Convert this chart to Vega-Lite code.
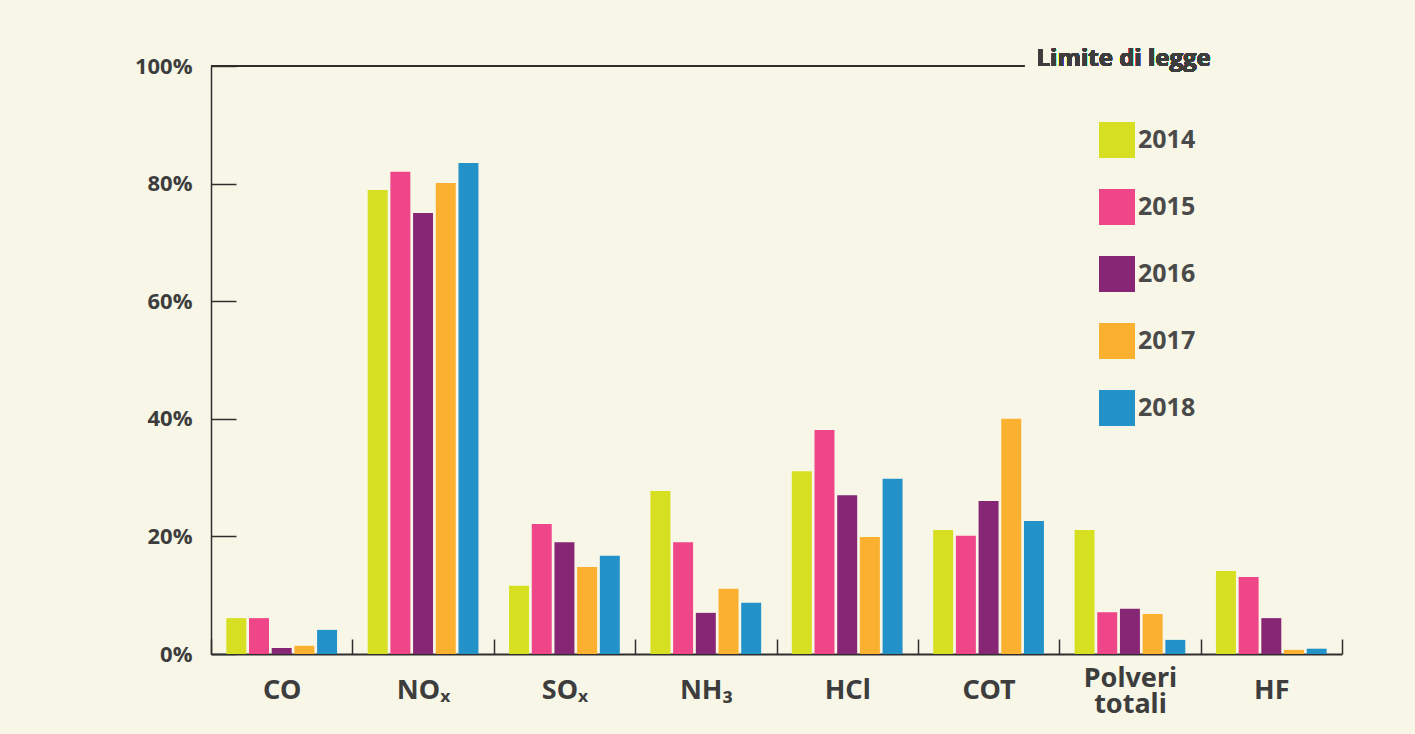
{
  "$schema": "https://vega.github.io/schema/vega-lite/v6.json",
  "width": 1131,
  "height": 588,
  "autosize": "none",
  "padding": {"left": 211, "top": 66, "right": 73, "bottom": 80},
  "background": "#f8f7e7",
  "config": {"view": {"stroke": null}, "font": "Open Sans"},
  "data": {
    "values": [
      {"category": "CO", "year": "2014", "value": 6.1},
      {"category": "CO", "year": "2015", "value": 6.1},
      {"category": "CO", "year": "2016", "value": 1.0},
      {"category": "CO", "year": "2017", "value": 1.4},
      {"category": "CO", "year": "2018", "value": 4.1},
      {"category": "NOₓ", "year": "2014", "value": 78.9},
      {"category": "NOₓ", "year": "2015", "value": 82.0},
      {"category": "NOₓ", "year": "2016", "value": 75.0},
      {"category": "NOₓ", "year": "2017", "value": 80.1},
      {"category": "NOₓ", "year": "2018", "value": 83.5},
      {"category": "SOₓ", "year": "2014", "value": 11.6},
      {"category": "SOₓ", "year": "2015", "value": 22.1},
      {"category": "SOₓ", "year": "2016", "value": 19.0},
      {"category": "SOₓ", "year": "2017", "value": 14.8},
      {"category": "SOₓ", "year": "2018", "value": 16.7},
      {"category": "NH₃", "year": "2014", "value": 27.7},
      {"category": "NH₃", "year": "2015", "value": 19.0},
      {"category": "NH₃", "year": "2016", "value": 7.0},
      {"category": "NH₃", "year": "2017", "value": 11.1},
      {"category": "NH₃", "year": "2018", "value": 8.7},
      {"category": "HCl", "year": "2014", "value": 31.1},
      {"category": "HCl", "year": "2015", "value": 38.1},
      {"category": "HCl", "year": "2016", "value": 27.0},
      {"category": "HCl", "year": "2017", "value": 19.9},
      {"category": "HCl", "year": "2018", "value": 29.8},
      {"category": "COT", "year": "2014", "value": 21.1},
      {"category": "COT", "year": "2015", "value": 20.1},
      {"category": "COT", "year": "2016", "value": 26.0},
      {"category": "COT", "year": "2017", "value": 40.0},
      {"category": "COT", "year": "2018", "value": 22.6},
      {"category": "Polveri totali", "year": "2014", "value": 21.1},
      {"category": "Polveri totali", "year": "2015", "value": 7.1},
      {"category": "Polveri totali", "year": "2016", "value": 7.7},
      {"category": "Polveri totali", "year": "2017", "value": 6.8},
      {"category": "Polveri totali", "year": "2018", "value": 2.4},
      {"category": "HF", "year": "2014", "value": 14.1},
      {"category": "HF", "year": "2015", "value": 13.1},
      {"category": "HF", "year": "2016", "value": 6.1},
      {"category": "HF", "year": "2017", "value": 0.7},
      {"category": "HF", "year": "2018", "value": 0.9}
    ]
  },
  "layer": [
    {
      "mark": {"type": "bar"},
      "encoding": {
        "x": {
          "field": "category",
          "type": "nominal",
          "sort": ["CO", "NOₓ", "SOₓ", "NH₃", "HCl", "COT", "Polveri totali", "HF"],
          "scale": {"paddingInner": 0, "paddingOuter": 0},
          "axis": {
            "title": null,
            "domainColor": "#2e2e2e",
            "domainWidth": 2,
            "tickBand": "extent",
            "tickSize": -15,
            "tickColor": "#2e2e2e",
            "tickWidth": 1.5,
            "labelAngle": 0,
            "labelFont": "Noto Sans",
            "labelFontSize": 27,
            "labelFontWeight": "bold",
            "labelColor": "#3d3d3d",
            "labelBaseline": "middle",
            "labelPadding": {"condition": {"test": "datum.value == 'Polveri totali'", "value": 39}, "value": 51},
            "labelLineHeight": 26,
            "labelExpr": "datum.label == 'Polveri totali' ? ['Polveri', 'totali'] : datum.label"
          }
        },
        "xOffset": {
          "field": "year",
          "type": "nominal",
          "scale": {"paddingInner": 0.12, "paddingOuter": 0.675}
        },
        "y": {
          "field": "value",
          "type": "quantitative",
          "scale": {"domain": [0, 100], "nice": false},
          "axis": {
            "title": null,
            "values": [0, 20, 40, 60, 80, 100],
            "grid": false,
            "domainColor": "#2e2e2e",
            "domainWidth": 1.5,
            "tickSize": -25,
            "tickColor": "#2e2e2e",
            "tickWidth": 1.5,
            "labelFontSize": 22,
            "labelFontWeight": "bold",
            "labelColor": "#3d3d3d",
            "labelPadding": 44,
            "labelExpr": "datum.value + '%'"
          }
        },
        "color": {
          "field": "year",
          "type": "nominal",
          "scale": {
            "domain": ["2014", "2015", "2016", "2017", "2018"],
            "range": ["#d7df23", "#ef4589", "#872675", "#fbb030", "#2292c9"]
          },
          "legend": {
            "title": null,
            "orient": "none",
            "legendX": 888,
            "legendY": 56,
            "direction": "vertical",
            "symbolType": "square",
            "symbolSize": 1296,
            "symbolStrokeWidth": 0,
            "symbolOpacity": 1,
            "labelFontSize": 25,
            "labelFontWeight": "bold",
            "labelColor": "#4a4a4a",
            "labelOffset": 3,
            "rowPadding": 31
          }
        }
      }
    },
    {
      "mark": {"type": "rule", "color": "#2e2e2e", "strokeWidth": 1.5, "xOffset": -70.7, "x2Offset": 35.5},
      "encoding": {
        "x": {"datum": "CO"},
        "x2": {"datum": "COT"},
        "y": {"datum": 100}
      }
    },
    {
      "mark": {"type": "text", "text": "Limite di legge", "align": "left", "baseline": "middle", "dx": 48, "dy": -7, "fontSize": 24, "fontWeight": "bold", "color": "#3d3d3d"},
      "encoding": {
        "x": {"datum": "COT"},
        "y": {"datum": 100}
      }
    }
  ]
}
